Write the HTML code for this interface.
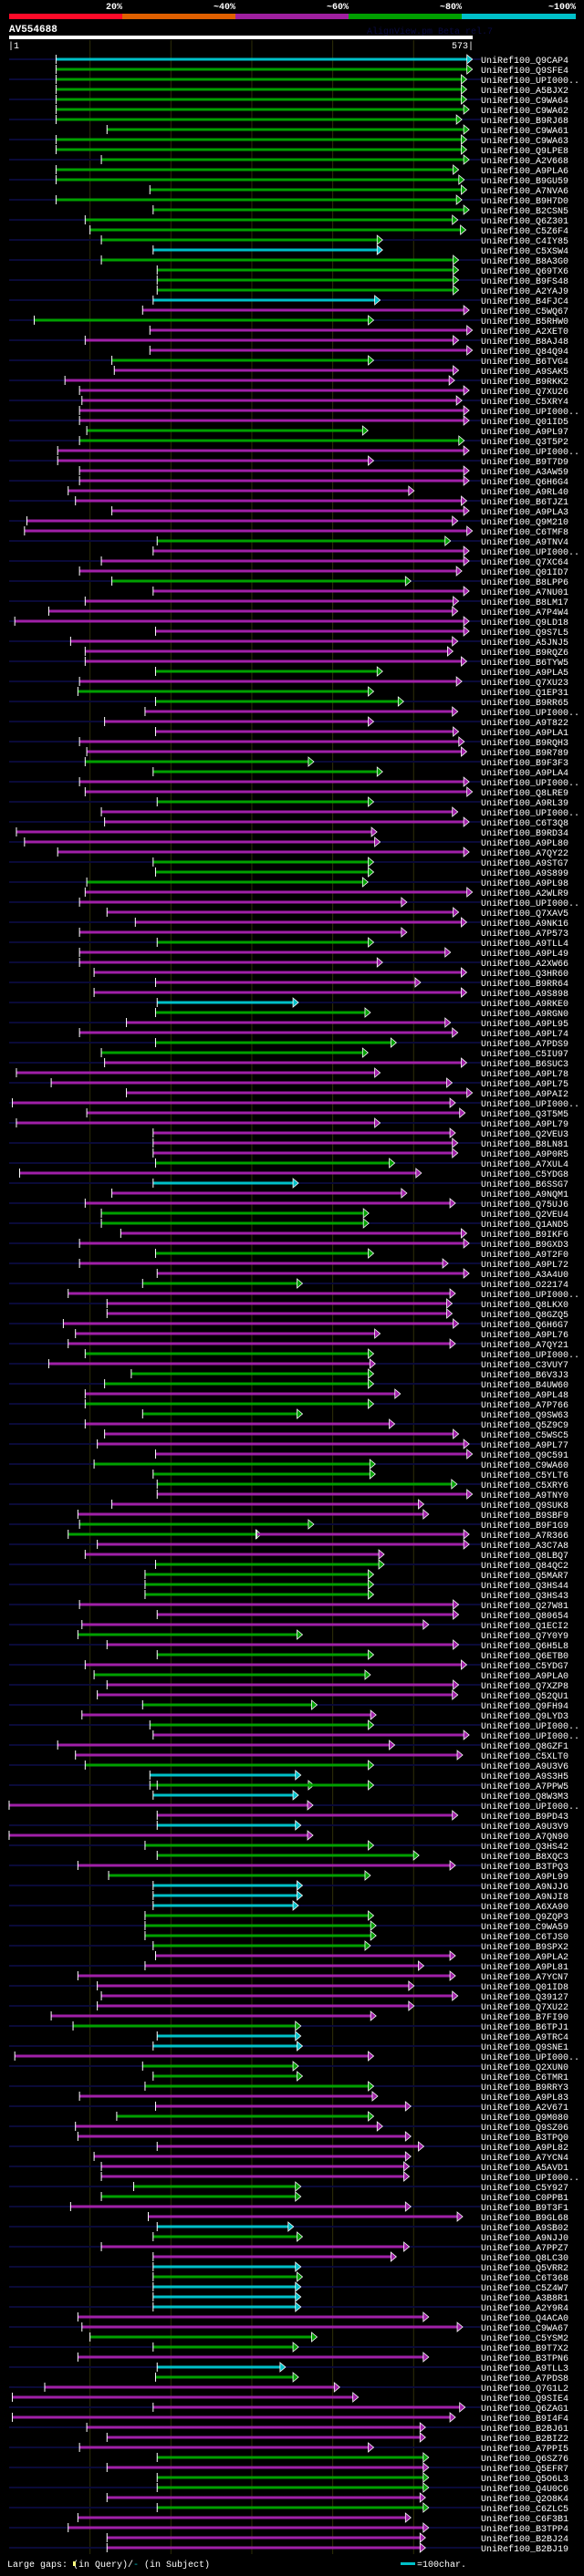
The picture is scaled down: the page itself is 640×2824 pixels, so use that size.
<!DOCTYPE html>
<html><head><meta charset="utf-8">
<style>
html,body{margin:0;padding:0;background:#000;}
body{width:640px;height:2819px;overflow:hidden;}
svg text{font-family:"Liberation Mono","DejaVu Sans Mono",monospace;}
</style></head>
<body>
<svg id="chart" width="640" height="2819" xmlns="http://www.w3.org/2000/svg">
  <rect x="0" y="0" width="640" height="2819" fill="#000"/>
  <g>
    <rect x="10" y="15" width="124" height="6" fill="#ff0a28"/>
    <rect x="134" y="15" width="124" height="6" fill="#e06000"/>
    <rect x="258" y="15" width="124" height="6" fill="#a020a0"/>
    <rect x="382" y="15" width="124" height="6" fill="#00a000"/>
    <rect x="506" y="15" width="125" height="6" fill="#00c0c8"/>
    <text x="134" y="10" text-anchor="end" fill="#fff" font-size="10" font-weight="bold">20%</text>
    <text x="258" y="10" text-anchor="end" fill="#fff" font-size="10" font-weight="bold">~40%</text>
    <text x="382" y="10" text-anchor="end" fill="#fff" font-size="10" font-weight="bold">~60%</text>
    <text x="506" y="10" text-anchor="end" fill="#fff" font-size="10" font-weight="bold">~80%</text>
    <text x="631" y="10" text-anchor="end" fill="#fff" font-size="10" font-weight="bold">~100%</text>
  </g>
  <text x="10" y="35" fill="#fff" font-size="11" font-weight="bold">AV554688</text>
  <text x="402" y="37" fill="#0a0a40" font-size="10">AlignView.pm Beta rel.7</text>
  <rect x="10" y="39" width="508" height="4" fill="#fff"/>
  <text x="9" y="53" fill="#fff" font-size="10">|1</text>
  <text x="519" y="53" text-anchor="end" fill="#fff" font-size="10">573|</text>
  <g id="grid"></g>
  <g id="hits"></g>
  <g id="labels"></g>
  <g>
    <text x="8" y="2814" fill="#fff" font-size="10">Large gaps: <tspan fill="#fff">  (in Query)/</tspan><tspan fill="#00c0c8">-</tspan> (in Subject)</text>
    <rect x="80" y="2808" width="3" height="5" fill="#ffff80"/>
    <rect x="439" y="2809" width="16" height="3" fill="#00c0c8"/>
    <text x="457" y="2814" fill="#fff" font-size="10">=100char.</text>
  </g>
</svg>
<script>
const queryLen = 573;
const gridTicks = [100,200,300,400,500];
const rowNames = ["Q9CAP4","Q9SFE4","UPI000..","A5BJX2","C9WA64","C9WA62","B9RJ68","C9WA61","C9WA63","Q9LPE8","A2V668","A9PLA6","B9GU59","A7NVA6","B9H7D0","B2CSN5","Q6Z301","C5Z6F4","C4IY85","C5XSW4","B8A3G0","Q69TX6","B9FS48","A2YAJ9","B4FJC4","C5WQ67","B5RHW0","A2XET0",
"B8AJ48","Q84Q94","B6TVG4","A9SAK5","B9RKK2","Q7XU26","C5XRY4","UPI000..","Q01ID5","A9PL97","Q3T5P2","UPI000..","B9T7D9","A3AW59","Q6H6G4","A9RL40","B6TJZ1","A9PLA3","Q9M210","C6TMF8","A9TNV4","UPI000..","Q7XC64","Q01ID7","B8LPP6","A7NU01","B8LM17","A7P4W4",
"Q9LD18","Q9S7L5","A5JNJ5","B9RQZ6","B6TYW5","A9PLA5","Q7XU23","Q1EP31","B9RR65","UPI000..","A9T822","A9PLA1","B9RQH3","B9R789","B9F3F3","A9PLA4","UPI000..","Q8LRE9","A9RL39","UPI000..","C6T3Q8","B9RD34","A9PL80","A7QY22","A9STG7","A9S899","A9PL98","A2WLR9",
"UPI000..","Q7XAV5","A9NK16","A7P573","A9TLL4","A9PL49","A2XW66","Q3HR60","B9RR64","A9S898","A9RKE0","A9RGN0","A9PL95","A9PL74","A7PDS9","C5IU97","B6SUC3","A9PL78","A9PL75","A9PAI2","UPI000..","Q3T5M5","A9PL79","Q2VEU3","B8LN81","A9P0R5","A7XUL4","C5YDG8",
"B6SSG7","A9NQM1","Q75UJ6","Q2VEU4","Q1AND5","B9IKF6","B9GXD3","A9T2F0","A9PL72","A3A4U0","O22174","UPI000..","Q8LKX0","Q8GZQ5","Q6H6G7","A9PL76","A7QY21","UPI000..","C3VUY7","B6V3J3","B4UW60","A9PL48","A7P766","Q9SW63","Q5Z9C9","C5WSC5","A9PL77","Q9C591","C9WA60",
"C5YLT6","C5XRY6","A9TNY0","Q9SUK8","B9SBF9","B9F1G9","A7R366","A3C7A8","Q8LBQ7","Q84QC2","Q5MAR7","Q3HS44","Q3HS43","Q27W81","Q80654","Q1ECI2","Q7Y0Y9","Q6H5L8","Q6ETB0","C5YDG7","A9PLA0","Q7XZP8","Q52QU1","Q9FH94","Q9LYD3","UPI000..","UPI000..","Q8GZF1",
"C5XLT0","A9U3V6","A9S3H5","A7PPW5","Q8W3M3","UPI000..","B9PD43","A9U3V9","A7QN90","Q3HS42","B8XQC3","B3TPQ3","A9PL99","A9NJJ6","A9NJI8","A6XA90","Q9ZQP3","C9WA59","C6TJS0","B9SPX2","A9PLA2","A9PL81","A7YCN7","Q01ID8","Q39127","Q7XU22","B7FI90","B6TPJ1",
"A9TRC4","Q9SNE1","UPI000..","Q2XUN0","C6TMR1","B9RRY3","A9PL83","A2V671","Q9M080","Q9SZ06","B3TPQ0","A9PL82","A7YCN4","A5AVD1","UPI000..","C5Y927","C0PPB1","B9T3F1","B9GL68","A9SB02","A9NJJ0","A7PPZ7","Q8LC30","Q5VRR2","C6T368","C5Z4W7","A3B8R1","A2Y9R4",
"Q4ACA0","C9WA67","C5YSM2","B9T7X2","B3TPN6","A9TLL3","A7PDS8","Q7G1L2","Q9SIE4","Q6ZAG1","B9I4F4","B2BJ61","B2BIZ2","A7PPI5","Q6SZ76","Q5EFR7","Q5O6L3","Q4U0C6","Q2O8K4","C6ZLC5","C6F3B1","B3TPP4","B2BJ24","B2BJ19"];
const hitRow = [0,1,2,3,4,5,6,7,8,9,10,11,12,13,14,15,16,17,18,19,20,21,22,23,24,25,26,27,
28,29,30,31,32,33,34,35,36,37,38,39,40,41,42,43,44,45,46,47,48,49,50,51,52,53,54,55,
56,57,58,59,60,61,62,63,64,65,66,67,68,69,70,71,72,73,74,75,76,77,78,79,80,81,82,83,
84,85,86,87,88,89,90,91,92,93,94,95,96,97,98,99,100,101,102,103,104,105,106,107,108,109,110,111,
112,113,114,115,116,117,118,119,120,121,122,123,124,125,126,127,128,129,130,131,132,133,134,135,136,137,138,139,140,
141,142,143,144,145,146,147,147,148,149,150,151,152,153,154,155,156,157,158,159,160,161,162,163,164,165,166,167,168,
169,170,171,172,172,173,174,175,176,177,178,179,180,181,182,183,184,185,186,187,188,189,190,191,192,193,194,195,196,
197,198,199,200,201,202,203,204,205,206,207,208,209,210,211,212,213,214,215,216,217,218,219,220,221,222,223,224,
225,226,227,228,229,230,231,232,233,234,235,236,237,238,239,240,241,242,243,244,245,246,247,248];
const hitStart = [58,58,58,58,58,58,58,121,58,58,114,58,58,174,58,178,94,100,114,178,114,183,183,183,178,165,31,174,
94,174,127,130,69,87,90,87,87,96,87,60,60,87,87,73,82,127,22,19,183,178,114,87,127,178,94,49,
7,181,76,94,94,181,87,85,181,168,118,181,87,96,94,178,87,94,183,114,118,9,19,60,178,181,96,94,
87,121,156,87,183,87,87,105,181,105,183,181,145,87,181,114,118,9,52,145,4,96,9,178,178,178,181,13,
178,127,94,114,114,138,87,181,87,183,165,73,121,121,67,82,73,94,49,151,118,94,94,165,94,118,109,181,105,
178,183,183,127,85,87,73,306,109,94,181,168,168,168,87,183,90,85,121,183,94,105,121,109,165,90,174,178,60,
82,94,174,174,183,178,0,183,183,0,168,183,85,123,178,178,178,168,168,168,178,181,168,85,109,114,109,52,79,
183,178,7,165,178,168,87,181,133,82,85,183,105,114,114,154,114,76,172,183,178,114,178,178,178,178,178,178,
85,90,100,178,85,183,181,44,4,178,4,96,121,87,183,121,183,183,121,183,85,73,121,121];
const hitEnd = [567,567,560,560,560,563,554,563,560,560,563,550,557,560,554,563,549,559,456,456,550,550,550,550,453,563,445,567,
550,567,445,550,545,563,554,563,563,438,557,563,445,563,563,495,560,563,549,567,540,563,563,554,491,563,550,549,
563,563,549,543,560,456,554,445,482,549,445,550,557,560,371,456,563,567,445,549,563,449,453,563,445,445,438,567,
486,550,560,486,445,540,456,560,503,560,352,441,540,549,473,438,560,453,542,567,546,558,453,546,549,549,471,504,
352,486,546,439,439,560,563,445,537,563,357,546,542,542,550,453,546,445,447,445,445,478,445,357,471,550,563,567,447,
447,548,567,507,513,371,306,563,563,458,458,445,445,445,550,550,513,357,550,445,560,441,550,549,375,448,445,563,471,
555,445,355,371,445,352,370,549,355,370,445,501,546,441,357,357,352,445,448,448,441,546,507,546,495,549,495,448,355,
355,357,445,352,357,445,450,491,445,456,491,507,491,489,489,355,355,491,555,346,357,489,473,355,357,355,355,355,
513,555,375,352,513,336,352,403,426,558,546,509,509,445,513,513,513,513,509,513,491,513,509,509];
const hitColor = ["c","g","g","g","g","g","g","g","g","g","g","g","g","g","g","g","g","g","g","c","g","g","g","g","c","m","g","m",
"m","m","g","m","m","m","m","m","m","g","g","m","m","m","m","m","m","m","m","m","g","m","m","m","g","m","m","m",
"m","m","m","m","m","g","m","g","g","m","m","m","m","m","g","g","m","m","g","m","m","m","m","m","g","g","g","m",
"m","m","m","m","g","m","m","m","m","m","c","g","m","m","g","g","m","m","m","m","m","m","m","m","m","m","g","m",
"c","m","m","g","g","m","m","g","m","m","g","m","m","m","m","m","m","g","m","g","g","m","g","g","m","m","m","m","g",
"g","g","m","m","m","g","g","m","m","m","g","g","g","g","m","m","m","g","m","g","m","g","m","m","g","m","g","m","m",
"m","g","c","g","g","c","m","m","c","m","g","g","m","g","c","c","c","g","g","g","g","m","m","m","m","m","m","m","g",
"c","c","m","g","g","g","m","m","g","m","m","m","m","m","m","g","g","m","m","c","g","m","m","c","g","c","c","c",
"m","m","g","g","m","c","g","m","m","m","m","m","m","m","g","m","g","g","m","g","m","m","m","m"];
const hitNavy = [1,0,1,0,1,0,1,0,1,0,1,0,1,0,1,0,1,0,1,0,1,0,1,0,1,0,1,0,
1,0,1,0,1,0,1,0,1,0,1,0,1,0,1,0,1,0,1,0,1,0,1,0,1,0,1,0,
1,0,1,0,1,0,1,0,1,0,1,0,1,0,1,0,1,0,1,0,1,0,1,0,1,0,1,0,
1,0,1,0,1,0,1,0,1,0,1,0,1,0,1,0,1,0,1,0,1,0,1,0,1,0,1,0,
1,0,1,0,1,0,1,0,1,0,1,0,1,0,1,0,1,0,1,0,1,0,1,0,1,0,1,0,1,
0,1,0,1,0,1,0,0,1,0,1,0,1,0,1,0,1,0,1,0,1,0,1,0,1,0,1,0,1,
0,1,0,1,1,0,1,0,1,0,1,0,1,0,1,0,1,0,1,0,1,0,1,0,1,0,1,0,1,
0,1,0,1,0,1,0,1,0,1,0,1,0,1,0,1,0,1,0,1,0,1,0,1,0,1,0,1,
0,1,0,1,0,1,0,1,0,1,0,1,0,1,0,1,0,1,0,1,0,1,0,1];

const X0 = 10, X1 = 518, Y0 = 65, ROWH = 11;
function xs(p){ return X0 + p * (X1 - X0) / queryLen; }
function ys(r){ return Y0 + r * ROWH; }
const colors = {c:"#00c0c8", g:"#00a000", m:"#a020a8"};
const NS = "http://www.w3.org/2000/svg";
function mk(tag, attrs, parent){ const e=document.createElementNS(NS,tag); for(const k in attrs) e.setAttribute(k,attrs[k]); parent.appendChild(e); return e; }

const grid = document.getElementById('grid');
gridTicks.forEach(t=>{
  const l = mk('line',{x1:xs(t),x2:xs(t),y1:44,y2:2800,stroke:'#2e2e08','stroke-width':1},grid);
  
  
});

const hits = document.getElementById('hits');
const navyDone = {};
for(let i=0;i<hitRow.length;i++){
  const r = hitRow[i], y = ys(r);
  const g = mk('g',{},hits);
  
  
  if(hitNavy[i] && !navyDone[r]){
    navyDone[r]=1;
    const nv = mk('rect',{x:X0,y:y-1,width:527-X0,height:2,fill:'#0a0a38'},g);
    
    
  }
  const x1 = xs(hitStart[i]), x2 = xs(hitEnd[i]);
  const bar = mk('rect',{x:x1,y:y-1.5,width:Math.max(0,x2-x1),height:3,fill:colors[hitColor[i]]},g);
  
  
  const tick = mk('rect',{x:x1-0.5,y:y-5,width:1,height:10,fill:'#fff'},g);
  
  
  const arr = mk('polygon',{points:`${x2-1},${y-5} ${x2+5},${y} ${x2-1},${y+5}`,fill:colors[hitColor[i]],stroke:'#fff','stroke-width':0.8},g);
  
  
}
const labels = document.getElementById('labels');
rowNames.forEach((n,r)=>{
  const t = mk('text',{x:527,y:ys(r)+4,fill:'#fff','font-size':10},labels);
  t.textContent = 'UniRef100_'+n;
  
  
});
</script>
</body></html>
